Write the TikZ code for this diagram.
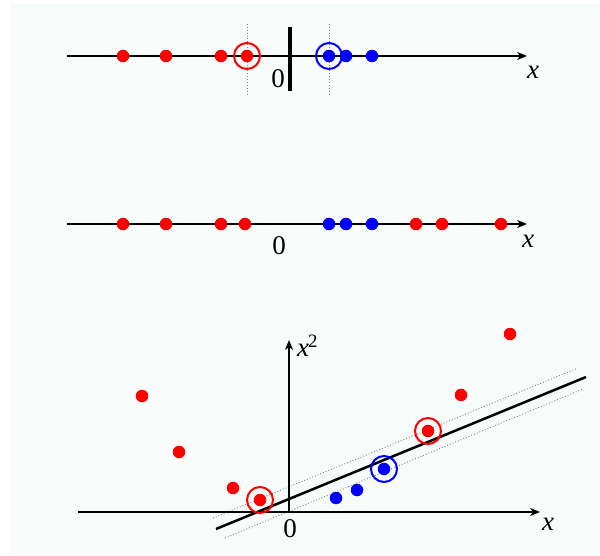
\documentclass[tikz,border=0pt]{standalone}
\usepackage{fontspec}
\setmainfont{Liberation Serif}
\usetikzlibrary{arrows.meta}
\definecolor{bgtint}{RGB}{247,251,249}
\definecolor{ptred}{RGB}{255,0,0}
\definecolor{ptblue}{RGB}{0,0,255}
\tikzset{
  axis/.style={line width=2.5pt,-{Stealth[length=10pt,width=8pt]}},
  rdot/.style={circle,fill=ptred,inner sep=0pt,minimum size=12.5pt},
  bdot/.style={circle,fill=ptblue,inner sep=0pt,minimum size=12.5pt},
  rring/.style={circle,draw=ptred,line width=2pt,inner sep=0pt,minimum size=26pt},
  bring/.style={circle,draw=ptblue,line width=2pt,inner sep=0pt,minimum size=26pt},
  guide/.style={gray,dotted,line width=0.9pt},
  margin/.style={gray,dotted,line width=0.9pt},
  lbl/.style={font=\fontsize{27}{29}\selectfont,inner sep=0pt},
}
\begin{document}
\begin{tikzpicture}[x=1pt,y=-1pt]
\useasboundingbox (0,0) rectangle (600,556);
\fill[bgtint] (10,4) rectangle (600,556);
% ---------- top line ----------
\coordinate (t0) at (67,56);
\coordinate (t1) at (527,56);
\coordinate (ga) at (247,24);
\coordinate (gb) at (247,95);
\coordinate (gc) at (329,24);
\coordinate (gd) at (329,95);
\draw[guide] (ga) -- (gb);
\draw[guide] (gc) -- (gd);
\coordinate (bar0) at (290,27);
\coordinate (bar1) at (290,91);
\draw[line width=3.2pt] (bar0) -- (bar1);
\draw[axis] (t0) -- (t1);
\node[rdot] (ta) at (123,56) {};
\node[rdot] (tb) at (166,56) {};
\node[rdot] (tc) at (221,56) {};
\node[rdot] (td) at (247,56) {};
\node[rring] (tdr) at (247,56) {};
\node[bdot] (te) at (329,56) {};
\node[bring] (ter) at (329,56) {};
\node[bdot] (tf) at (346,56) {};
\node[bdot] (tg) at (372,56) {};
\node[lbl] (tzero) at (278,79) {0};
\node[lbl] (tx) at (533,72) {\textit{x}};
% ---------- middle line ----------
\coordinate (m0) at (67,224);
\coordinate (m1) at (527,224);
\draw[axis] (m0) -- (m1);
\node[rdot] (ma) at (123,224) {};
\node[rdot] (mb) at (166,224) {};
\node[rdot] (mc) at (221,224) {};
\node[rdot] (md) at (245,224) {};
\node[bdot] (me) at (329,224) {};
\node[bdot] (mf) at (346,224) {};
\node[bdot] (mg) at (372,224) {};
\node[rdot] (mh) at (416,224) {};
\node[rdot] (mi) at (442,224) {};
\node[rdot] (mj) at (501,224) {};
\node[lbl] (mzero) at (279,246) {0};
\node[lbl] (mx) at (528,241) {\textit{x}};
% ---------- bottom plot ----------
\coordinate (b0) at (78,512);
\coordinate (b1) at (540,512);
\coordinate (v0) at (289,512);
\coordinate (v1) at (289,340);
\draw[margin] (213,518) coordinate (u0) -- (578,368) coordinate (u1);
\draw[margin] (225,538) coordinate (l0) -- (583,389) coordinate (l1);
\draw[axis] (b0) -- (b1);
\draw[axis] (v0) -- (v1);
\coordinate (s0) at (216,529);
\coordinate (s1) at (586,377);
\draw[line width=2.5pt] (s0) -- (s1);
\node[rdot] (pa) at (142,396) {};
\node[rdot] (pb) at (179,452) {};
\node[rdot] (pc) at (233,488) {};
\node[rdot] (pd) at (260,500) {};
\node[rring] (pdr) at (260,500) {};
\node[rdot] (pe) at (428,431) {};
\node[rring] (per) at (428,431) {};
\node[rdot] (pf) at (461,395) {};
\node[rdot] (pg) at (510,334) {};
\node[bdot] (qa) at (336,498) {};
\node[bdot] (qb) at (357,490) {};
\node[bdot] (qc) at (384,469) {};
\node[bring] (qcr) at (384,469) {};
\node[lbl,anchor=west] (bx2) at (297,346) {\textit{x}\kern-1pt\textsuperscript{2}};
\node[lbl] (bzero) at (290,529) {0};
\node[lbl] (bx) at (548,524) {\textit{x}};
\end{tikzpicture}
\end{document}
